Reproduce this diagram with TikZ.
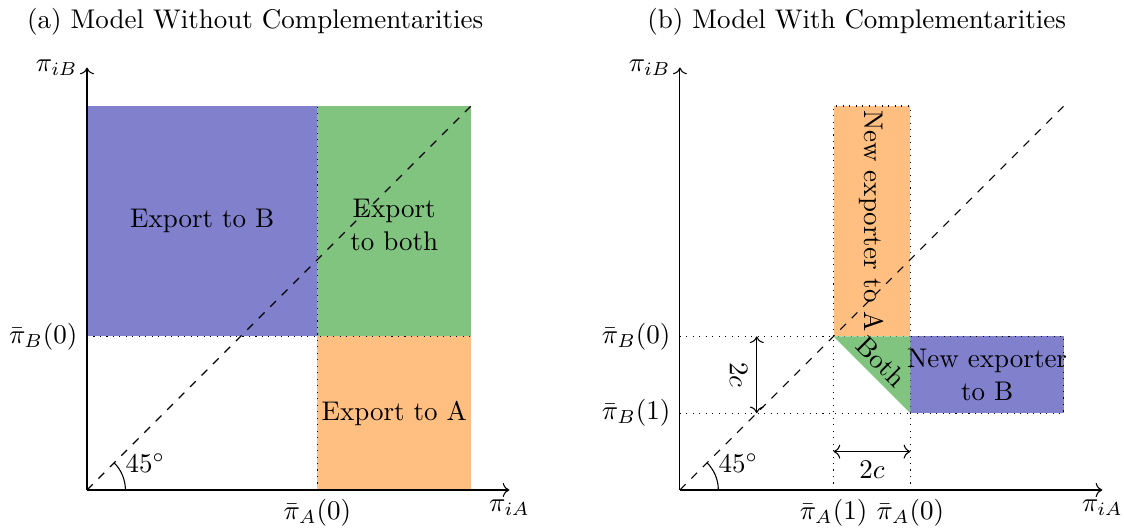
\documentclass[tikz,border=0pt]{standalone}
\usepackage{amsmath}
\usetikzlibrary{arrows.meta, calc, positioning}
\definecolor{regBlue}{HTML}{8080CC}
\definecolor{regGreen}{HTML}{80C480}
\definecolor{regOrange}{HTML}{FFBF80}
\tikzset{
  axisline/.style  = {->, black},
  diagline/.style  = {dashed, black},
  guideline/.style = {dotted, black},
  dimarrow/.style  = {<->, black},
  lbl/.style       = {font=\normalsize},
  ttl/.style       = {font=\normalsize},
}
\begin{document}
\begin{tikzpicture}
  \useasboundingbox (-1.133,-0.482) rectangle (13.502,6.38);
  % (a) model without complementarities
  \begin{scope}
    \fill[regBlue]   (0,2) rectangle (3,5);
    \fill[regGreen]  (3,2) rectangle (5,5);
    \fill[regOrange] (3,0) rectangle (5,2);
    \draw[guideline] (3,0) -- (3,5);
    \draw[guideline] (0,2) -- (5,2);
    \coordinate (Oa) at (0,0);
    \coordinate (Da) at (5,5);
    \draw[diagline] (Oa) -- (Da);
    \draw[axisline] (Oa) -- (5.5,0) node[below, lbl] (xA) {$\pi_{iA}$};
    \draw[axisline] (Oa) -- (0,5.5) node[left, lbl] (yA) {$\pi_{iB}$};
    \draw (0.5,0) arc[start angle=0, end angle=45, radius=0.5];
    \node[above right, lbl, inner sep=1pt] (angA) at (22.5:0.5) {$45^\circ$};
    \node[below, lbl] (pA0a) at (3,0) {$\bar{\pi}_A(0)$};
    \node[left, lbl] (pB0a) at (0,2) {$\bar{\pi}_B(0)$};
    \node[lbl] (expB) at (1.5,3.5) {Export to B};
    \node[lbl, align=center] (expBoth) at (4,3.45) {Export\\to both};
    \node[lbl] (expA) at (4,1) {Export to A};
    \node[ttl] (ttlA) at (2.19,6.1) {(a) Model Without Complementarities};
  \end{scope}
  % (b) model with complementarities
  \begin{scope}[xshift=7.72cm]
    \filldraw[guideline, fill=regOrange] (2,2) rectangle (3,5);
    \filldraw[guideline, fill=regBlue]   (3,1) rectangle (5,2);
    \fill[regGreen] (2,2) -- (3,2) -- (3,1) -- cycle;
    \draw[guideline] (0,2) -- (2,2);
    \draw[guideline] (0,1) -- (3,1);
    \draw[guideline] (2,0) -- (2,2);
    \draw[guideline] (3,0) -- (3,1);
    \coordinate (Ob) at (0,0);
    \coordinate (Db) at (5,5);
    \draw[diagline] (Ob) -- (Db);
    \draw[axisline] (Ob) -- (5.5,0) node[below, lbl] (xB) {$\pi_{iA}$};
    \draw[axisline] (Ob) -- (0,5.5) node[left, lbl] (yB) {$\pi_{iB}$};
    \draw (0.5,0) arc[start angle=0, end angle=45, radius=0.5];
    \node[above right, lbl, inner sep=1pt] (angB) at (22.5:0.5) {$45^\circ$};
    \node[below, lbl] (pA1) at (2,0) {$\bar{\pi}_A(1)$};
    \node[below, lbl] (pA0b) at (3,0) {$\bar{\pi}_A(0)$};
    \node[left, lbl] (pB0b) at (0,2) {$\bar{\pi}_B(0)$};
    \node[left, lbl] (pB1) at (0,1) {$\bar{\pi}_B(1)$};
    % 2c gaps
    \coordinate (cB1) at (1,1);
    \coordinate (cB0) at (1,2);
    \draw[dimarrow] (cB1) -- (cB0) node[midway, anchor=north, rotate=-90, lbl] (gapB) {$2c$};
    \coordinate (cA1) at (2,0.5);
    \coordinate (cA0) at (3,0.5);
    \draw[dimarrow] (cA1) -- (cA0) node[midway, below, lbl] (gapA) {$2c$};
    \node[lbl, rotate=-90] (newA) at (2.5,3.5) {New exporter to A};
    \node[lbl, rotate=-45] (both) at (2.62,1.67) {Both};
    \node[lbl, align=center] (newB) at (4,1.5) {New exporter\\to B};
    \node[ttl] (ttlB) at (2.3,6.1) {(b) Model With Complementarities};
  \end{scope}
\end{tikzpicture}
\end{document}
